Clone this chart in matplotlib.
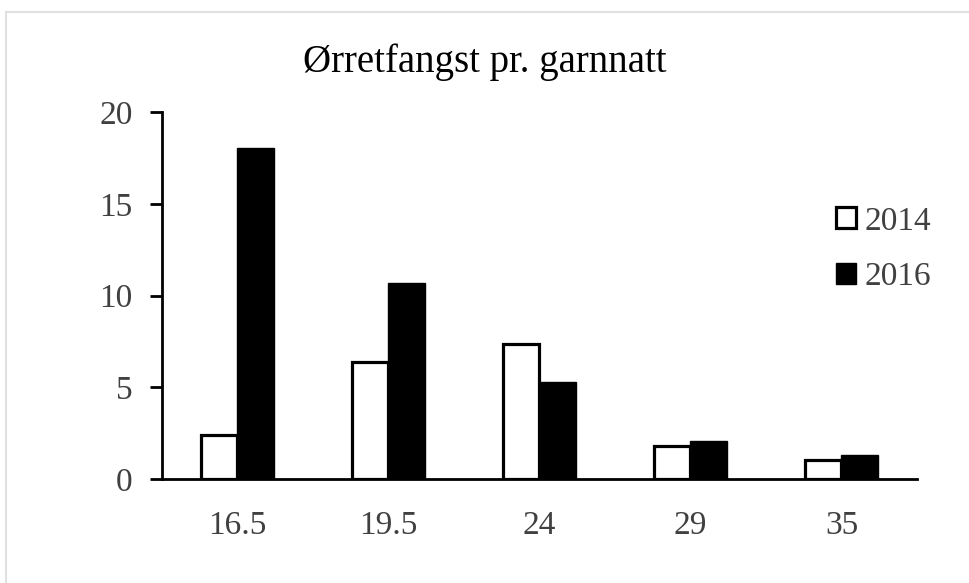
import matplotlib.pyplot as plt
import numpy as np
from matplotlib.lines import Line2D

# data
kategorier = ['16.5', '19.5', '24', '29', '35']
fangst_2014 = [2.4, 6.35, 7.35, 1.8, 1.05]
fangst_2016 = [18.05, 10.7, 5.3, 2.05, 1.32]
aar = ['2014', '2016']

plt.rcParams['font.family'] = ['Liberation Serif', 'DejaVu Serif']

fig = plt.figure(figsize=(9.7, 5.83), dpi=100)
ax = fig.add_axes([162 / 970, 1 - 479 / 583, 755 / 970, 367 / 583])

x = np.arange(len(kategorier))
bredde = 0.245
ax.bar(x - bredde / 2, fangst_2014, bredde, color='white', edgecolor='black',
       linewidth=2.3, label=aar[0])
ax.bar(x + bredde / 2, fangst_2016, bredde, color='black', edgecolor='black',
       linewidth=1.0, label=aar[1])

ax.set_xlim(-0.5, len(kategorier) - 0.5)
ax.set_ylim(0, 20)
ax.set_yticks([0, 5, 10, 15, 20])
ax.set_xticks(x)
ax.set_xticklabels(kategorier)

for s in ['top', 'right']:
    ax.spines[s].set_visible(False)
for s in ['left', 'bottom']:
    ax.spines[s].set_linewidth(2.0)
    ax.spines[s].set_color('black')

ax.tick_params(axis='y', direction='out', length=9, width=2.0, pad=12,
               labelsize=24, labelcolor='#404040')
ax.tick_params(axis='x', length=0, pad=23, labelsize=24, labelcolor='#404040')

fig.text(0.5, 1 - 62 / 583, 'Ørretfangst pr. garnnatt', ha='center', va='center',
         fontsize=28, color='black')

leg = ax.legend(loc='upper left', bbox_to_anchor=(0.875, 0.78), frameon=False,
                fontsize=24, handlelength=0.6, handleheight=0.6,
                handletextpad=0.25, labelspacing=0.75, borderaxespad=0)
for t in leg.get_texts():
    t.set_color('#404040')

# grey frame (top and left only)
fig.add_artist(Line2D([6.5 / 970, 1], [1 - 11.5 / 583, 1 - 11.5 / 583],
                      transform=fig.transFigure, color='#e0e0e0', lw=1.5))
fig.add_artist(Line2D([6.5 / 970, 6.5 / 970], [0, 1 - 11.5 / 583],
                      transform=fig.transFigure, color='#e0e0e0', lw=1.5))

fig.savefig('out.png', dpi=100)
